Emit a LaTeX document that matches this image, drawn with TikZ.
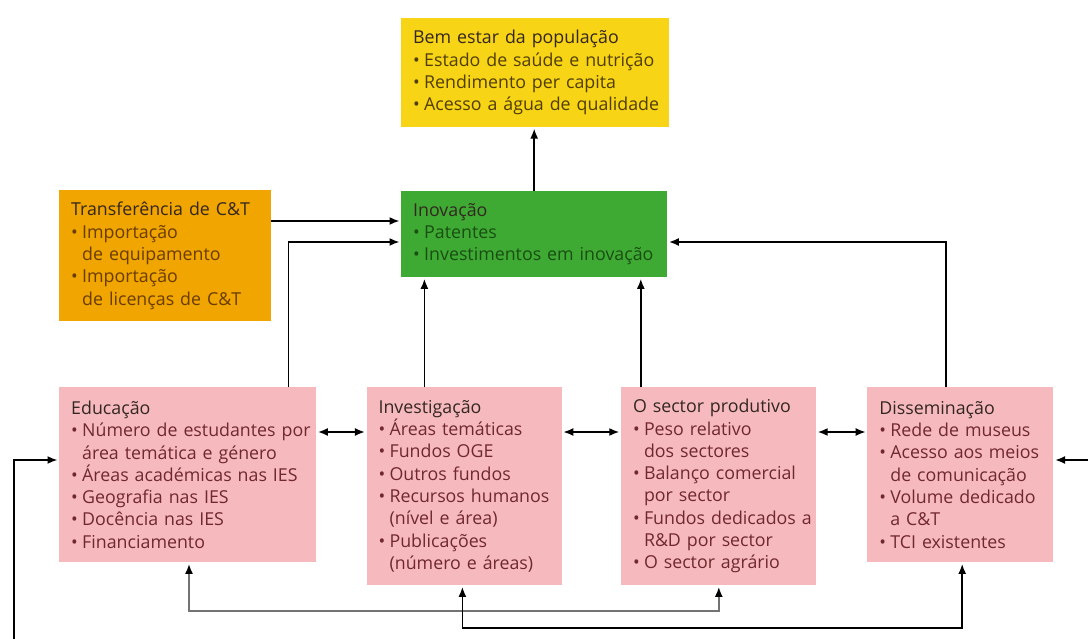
\documentclass[tikz,border=0pt]{standalone}
\usepackage{fontspec}
\setmainfont{Open Sans}
\usetikzlibrary{positioning, arrows.meta}

\definecolor{pinkbox}{RGB}{246,186,190}
\definecolor{yellowbox}{RGB}{248,212,22}
\definecolor{greenbox}{RGB}{62,170,52}
\definecolor{orangebox}{RGB}{240,165,0}
\definecolor{pinkitem}{RGB}{112,40,46}
\definecolor{yellowitem}{RGB}{80,62,6}
\definecolor{greenitem}{RGB}{26,78,18}
\definecolor{orangeitem}{RGB}{106,60,0}
\definecolor{headcol}{RGB}{52,38,32}

\newcommand{\hd}[1]{{\color{headcol}#1}}
\newcommand{\bul}[1]{\mbox{\makebox[11pt][l]{\textbullet}#1}}
\newcommand{\cnt}[1]{\mbox{\hspace*{11pt}#1}}

\tikzset{
    ibox/.style={fill=#1, anchor=north west, inner xsep=12pt, inner ysep=12pt, align=left,
        font=\fontsize{17.8pt}{22.3pt}\selectfont},
    arr/.style={line width=1.7pt, -{Latex[length=10pt,width=8pt]}, shorten >=1.5pt},
    darr/.style={line width=1.7pt, {Latex[length=10pt,width=8pt]}-{Latex[length=10pt,width=8pt]},
        shorten >=1.5pt, shorten <=1.5pt},
    garr/.style={line width=1.7pt, draw=black!55, {Latex[length=10pt,width=8pt,color=black]}-{Latex[length=10pt,width=8pt,color=black]},
        shorten >=1.5pt, shorten <=1.5pt},
}

\begin{document}
\begin{tikzpicture}[x=1pt, y=-1pt]
    \useasboundingbox (0,0) rectangle (1088,639);
    \fill[white] (0,0) rectangle (1088,639);

    % upper row
    \node[ibox=yellowbox, text=yellowitem, text width=244pt, minimum height=108pt] (bem) at (401,18)
        {\hd{Bem estar da população}\\ \bul{Estado de saúde e nutrição}\\ \bul{Rendimento per capita}\\ \bul{Acesso a água de qualidade}};
    \node[ibox=orangebox, text=orangeitem, text width=188pt, minimum height=129pt] (trans) at (59,190)
        {\hd{Transferência de C\&T}\\ \bul{Importação}\\ \cnt{de equipamento}\\ \bul{Importação}\\ \cnt{de licenças de C\&T}};
    \node[ibox=greenbox, text=greenitem, text width=242pt, minimum height=85pt] (inov) at (401,191)
        {\hd{Inovação}\\ \bul{Patentes}\\ \bul{Investimentos em inovação}};

    % lower row
    \node[ibox=pinkbox, text=pinkitem, text width=233pt, minimum height=175pt] (educ) at (59,387)
        {\hd{Educação}\\ \bul{Número de estudantes por}\\ \cnt{área temática e género}\\ \bul{Áreas académicas nas IES}\\
         \bul{Geografia nas IES}\\ \bul{Docência nas IES}\\ \bul{Financiamento}};
    \node[ibox=pinkbox, text=pinkitem, text width=171pt, minimum height=198pt, right=50pt of educ.north east, anchor=north west] (invest)
        {\hd{Investigação}\\ \bul{Áreas temáticas}\\ \bul{Fundos OGE}\\ \bul{Outros fundos}\\ \bul{Recursos humanos}\\
         \cnt{(nível e área)}\\ \bul{Publicações}\\ \cnt{(número e áreas)}};
    \node[ibox=pinkbox, text=pinkitem, text width=171pt, minimum height=198pt, right=59pt of invest.north east, anchor=north west] (sector)
        {\hd{O sector produtivo}\\ \bul{Peso relativo}\\ \cnt{dos sectores}\\ \bul{Balanço comercial}\\ \cnt{por sector}\\
         \bul{Fundos dedicados a}\\ \cnt{R\&D por sector}\\ \bul{O sector agrário}};
    \node[ibox=pinkbox, text=pinkitem, text width=162pt, minimum height=175pt, right=51pt of sector.north east, anchor=north west] (dissem)
        {\hd{Disseminação}\\ \bul{Rede de museus}\\ \bul{Acesso aos meios}\\ \cnt{de comunicação}\\ \bul{Volume dedicado}\\
         \cnt{a C\&T}\\ \bul{TCI existentes}};

    % connector ends
    \coordinate (edtop) at ([xshift=-28pt]educ.north east);
    \coordinate (invtop) at ([xshift=58pt]invest.north west);
    \coordinate (sectop) at ([xshift=20pt]sector.north west);
    \coordinate (distop) at ([xshift=79pt]dissem.north west);
    \coordinate (edbot) at ([xshift=130pt]educ.south west);
    \coordinate (secbot) at ([xshift=98pt]sector.south west);
    \coordinate (invbot) at ([xshift=96pt]invest.south west);
    \coordinate (disbot) at ([xshift=95pt]dissem.south west);
    \coordinate (lowa) at (0,611);
    \coordinate (lowb) at (0,628);
    \coordinate (lfree) at (14,639);
    \coordinate (rfree) at (1088,460);

    % into Inovação and up
    \draw[arr] (inov.north) -- (inov.north |- bem.south);
    \draw[arr] ([yshift=-31pt]trans.north east) -- ([yshift=-31pt]trans.north east -| inov.west);
    \draw[arr] (edtop) |- ([yshift=-51pt]inov.north west);
    \draw[arr] (invtop) -- (invtop |- inov.south);
    \draw[arr] (sectop) -- (sectop |- inov.south);
    \draw[arr] (distop) |- ([yshift=-51pt]inov.north east);

    % between the lower boxes
    \draw[darr] ([yshift=-45pt]educ.north east) -- ([yshift=-45pt]invest.north west);
    \draw[darr] ([yshift=-45pt]invest.north east) -- ([yshift=-45pt]sector.north west);
    \draw[darr] ([yshift=-45pt]sector.north east) -- ([yshift=-45pt]dissem.north west);

    % feedback loops
    \draw[arr] (lfree) |- ([yshift=-73pt]educ.north west);
    \draw[arr] (rfree) -- (rfree -| dissem.east);
    \draw[garr] (edbot) -- (edbot |- lowa) -- (secbot |- lowa) -- (secbot);
    \draw[darr] (invbot) -- (invbot |- lowb) -- (disbot |- lowb) -- (disbot);
\end{tikzpicture}
\end{document}
